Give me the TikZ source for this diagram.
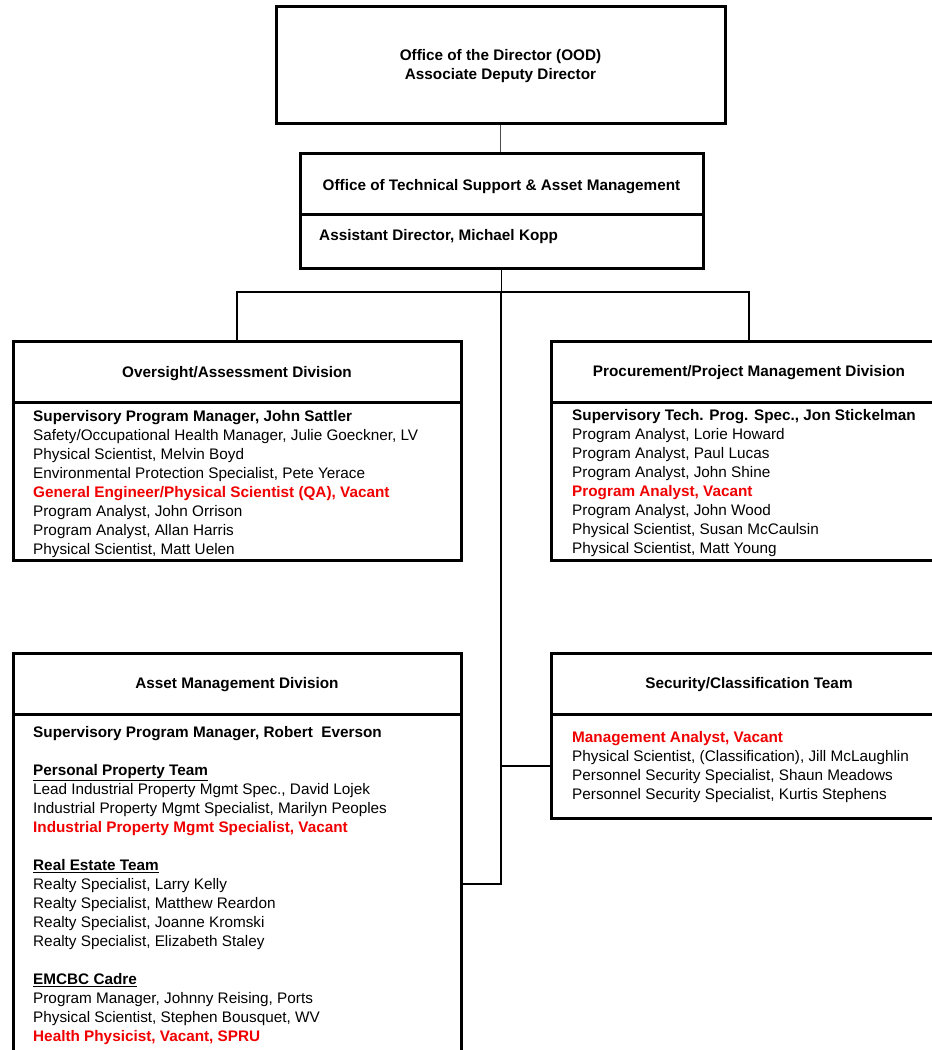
\documentclass[tikz,border=0pt]{standalone}
\usepackage{fontspec}
\setmainfont{Liberation Sans}
\definecolor{vacred}{RGB}{240,0,0}
\newcommand{\vacant}[1]{\textcolor{vacred}{\bfseries #1}}
\newcommand{\teamhead}[1]{\textbf{\underline{#1}}}
\begin{document}
\begin{tikzpicture}[x=1pt,y=-1pt,
  box/.style={draw=black, line width=3pt, inner sep=0pt},
  conn/.style={draw=black, line width=1.5pt},
  thinconn/.style={draw=black!70, line width=1pt},
  ttl/.style={font=\fontsize{15.3}{19}\selectfont\bfseries, inner sep=0pt, anchor=base, align=center},
  body/.style={font=\fontsize{15.3}{19}\selectfont, inner sep=0pt, anchor=base west, align=left}
]
\useasboundingbox (0,0) rectangle (932,1050);
\clip (0,0) rectangle (932,1050);

% Office of the Director
\node[box, minimum width=449pt, minimum height=117pt] (ood) at (500.5,65) {};
\node[ttl] (oodt) at (500.5,79.5) {Office of the Director (OOD)\\Associate Deputy Director};

% Office of Technical Support
\node[box, minimum width=403pt, minimum height=61pt] (otT) at (501.5,183.5) {};
\node[box, minimum width=403pt, minimum height=54pt] (otB) at (501.5,241) {};
\node[ttl] (otTt) at (501.5,190.5) {Office of Technical Support \& Asset Management};
\node[body] (otBt) at (319,240) {\textbf{Assistant Director, Michael Kopp}};

% Oversight/Assessment Division
\node[box, minimum width=448pt, minimum height=61pt] (ovT) at (237,371.5) {};
\node[box, minimum width=448pt, minimum height=158pt] (ovB) at (237,481) {};
\node[ttl] (ovTt) at (237,377.5) {Oversight/Assessment Division};
\node[body] (ovBt) at (33,554.5) {\textbf{Supervisory Program Manager, John Sattler}\\
Safety/Occupational Health Manager, Julie Goeckner, LV\\
Physical Scientist, Melvin Boyd\\
Environmental Protection Specialist, Pete Yerace\\
\vacant{General Engineer/Physical Scientist (QA), Vacant}\\
Program Analyst, John Orrison\\
Program Analyst, Allan Harris\\
Physical Scientist, Matt Uelen};

% Procurement/Project Management Division
\node[box, minimum width=396pt, minimum height=61pt] (prT) at (749,371.5) {};
\node[box, minimum width=396pt, minimum height=158pt] (prB) at (749,481) {};
\node[ttl] (prTt) at (749,376.5) {Procurement/Project Management Division};
\node[body] (prBt) at (572,553.5) {\textbf{Supervisory Tech. Prog. Spec., Jon Stickelman}\\
Program Analyst, Lorie Howard\\
Program Analyst, Paul Lucas\\
Program Analyst, John Shine\\
\vacant{Program Analyst, Vacant}\\
Program Analyst, John Wood\\
Physical Scientist, Susan McCaulsin\\
Physical Scientist, Matt Young};

% Asset Management Division
\node[box, minimum width=448pt, minimum height=61pt] (amT) at (237,683.5) {};
\node[box, minimum width=448pt, minimum height=356pt] (amB) at (237,892) {};
\node[ttl] (amTt) at (237,688.5) {Asset Management Division};
\node[body] (amBt) at (33,1041.5) {\textbf{Supervisory Program Manager, Robert~~Everson}\\[19pt]
\teamhead{Personal Property Team}\\
Lead Industrial Property Mgmt Spec., David Lojek\\
Industrial Property Mgmt Specialist, Marilyn Peoples\\
\vacant{Industrial Property Mgmt Specialist, Vacant}\\[19pt]
\teamhead{Real Estate Team}\\
Realty Specialist, Larry Kelly\\
Realty Specialist, Matthew Reardon\\
Realty Specialist, Joanne Kromski\\
Realty Specialist, Elizabeth Staley\\[19pt]
\teamhead{EMCBC Cadre}\\
Program Manager, Johnny Reising, Ports\\
Physical Scientist, Stephen Bousquet, WV\\
\vacant{Health Physicist, Vacant, SPRU}};

% Security/Classification Team
\node[box, minimum width=396pt, minimum height=61pt] (seT) at (749,683.5) {};
\node[box, minimum width=396pt, minimum height=104pt] (seB) at (749,766) {};
\node[ttl] (seTt) at (749,688.5) {Security/Classification Team};
\node[body] (seBt) at (572,799.5) {\vacant{Management Analyst, Vacant}\\
Physical Scientist, (Classification), Jill McLaughlin\\
Personnel Security Specialist, Shaun Meadows\\
Personnel Security Specialist, Kurtis Stephens};

% Connectors
\coordinate (split) at (501,292);
\coordinate (y884) at (0,884);
\coordinate (amjoin) at (amB.east |- y884);
\draw[thinconn] (ood.south) -- (ood.south |- otT.north);
\draw[conn] (otB.south) -- (otB.south |- split);
\draw[conn] (ovT.north) |- (split) -| (prT.north);
\draw[conn] (split) |- (amjoin);
\draw[conn] (seB.west) -- (seB.west -| split);
\end{tikzpicture}
\end{document}
